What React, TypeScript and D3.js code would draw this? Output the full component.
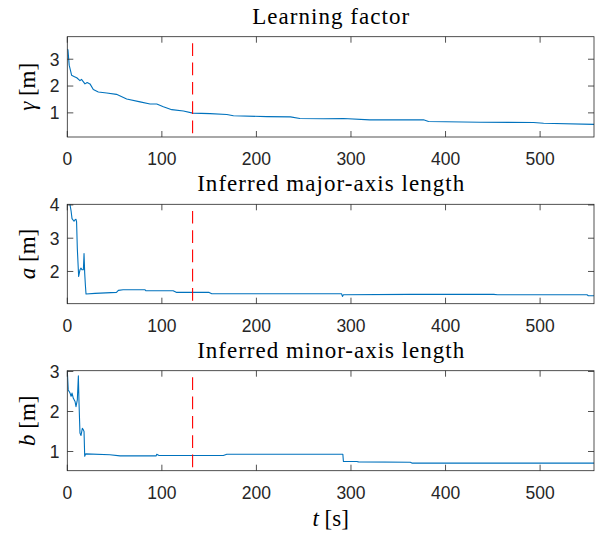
import React from 'react';
import * as d3 from 'd3';

const gammaT = [0, 0.7, 2, 4.6, 7, 10, 13.4, 15, 18.7, 21, 24, 27.5, 32.8, 41.7, 52, 62.8, 77, 87.5, 94.6, 101.6, 110.5, 122.8, 132.7, 151, 168.7, 175.7, 211, 236, 246, 271, 292, 320, 376.7, 382, 436.7, 493, 503.7, 557];
const gammaV = [3.38, 3.35, 2.78, 2.4, 2.36, 2.31, 2.2, 2.25, 2.08, 2.13, 2.08, 1.87, 1.78, 1.74, 1.69, 1.52, 1.41, 1.33, 1.33, 1.23, 1.12, 1.07, 0.99, 0.97, 0.94, 0.89, 0.86, 0.85, 0.79, 0.78, 0.79, 0.74, 0.74, 0.68, 0.65, 0.64, 0.61, 0.57];

const majorT = [2.5, 2.9, 3.9, 5, 7.1, 8, 9.2, 9.8, 10.6, 12, 13.4, 14.5, 15.5, 17, 17.7, 18.4, 19.1, 19.8, 29.3, 52, 54, 59, 82, 83, 112, 115.7, 150, 152.8, 290, 291, 292, 362.7, 451, 455, 549.6, 551, 557];
const majorV = [4.05, 4.0, 3.84, 3.59, 3.51, 3.55, 3.57, 3.5, 2.69, 1.85, 2.05, 2.1, 2.05, 2.05, 2.54, 1.95, 1.6, 1.32, 1.34, 1.37, 1.43, 1.45, 1.45, 1.42, 1.42, 1.37, 1.37, 1.33, 1.33, 1.25, 1.3, 1.31, 1.31, 1.3, 1.3, 1.27, 1.27];

const minorT = [0, 1, 2.9, 4, 5, 6.4, 8.2, 9.2, 10.6, 11.7, 12.4, 13.4, 14.5, 15.9, 17, 17.7, 18.4, 19.4, 45, 55.8, 94, 94.6, 97, 165, 168.7, 291.4, 292, 306, 308, 362.7, 364.4, 557];
const minorV = [3.02, 2.54, 2.46, 2.38, 2.46, 2.33, 2.25, 2.12, 2.29, 2.89, 2.21, 1.46, 1.4, 1.58, 1.54, 1.5, 0.88, 0.94, 0.92, 0.89, 0.89, 0.93, 0.9, 0.9, 0.93, 0.93, 0.75, 0.75, 0.74, 0.73, 0.71, 0.71];

const xTicks = [0, 100, 200, 300, 400, 500];
const gammaTicks = [1, 2, 3];
const majorTicks = [2, 3, 4];
const minorTicks = [1, 2, 3];
const titles = ['Learning factor', 'Inferred major-axis length', 'Inferred minor-axis length'];
const symbols = ['γ', 'a', 'b'];
const tMarker = 132.5;
const xDomain = [0, 557];

const W = 598;
const H = 533;
const L = 67.3;
const R = 594;
const AX = '#262626';
const serif = "'Liberation Serif', 'DejaVu Serif', serif";
const sans = "'Liberation Sans', Arial, Helvetica, sans-serif";

const panels = [
  { t: gammaT, v: gammaV, ticks: gammaTicks, domain: [0.1, 3.84], top: 36.7, bottom: 137, titleW: 157 },
  { t: majorT, v: majorV, ticks: majorTicks, domain: [1.03, 4.02], top: 204.3, bottom: 303.7, titleW: 267 },
  { t: minorT, v: minorV, ticks: minorTicks, domain: [0.52, 3.02], top: 370.7, bottom: 470.7, titleW: 267 },
];

export default function App() {
  const x = d3.scaleLinear().domain(xDomain).range([L, R]);
  return (
    <svg width={W} height={H} style={{ position: 'absolute', left: 0, top: 0, background: '#fff' }}>
      <rect x={0} y={0} width={W} height={H} fill="#fff" />
      {panels.map((p, i) => {
        const y = d3.scaleLinear().domain(p.domain).range([p.bottom, p.top]);
        const pts = p.t.map((t, k) => [t, p.v[k]] as [number, number]);
        const line = d3.line<[number, number]>().x(d => x(d[0])).y(d => y(d[1]));
        const cid = `clip${i}`;
        const tl = 6;
        return (
          <g key={i}>
            <defs>
              <clipPath id={cid}>
                <rect x={L} y={p.top} width={R - L} height={p.bottom - p.top} />
              </clipPath>
            </defs>
            <g clipPath={`url(#${cid})`}>
              <path d={line(pts) || ''} fill="none" stroke="#0072BD" strokeWidth={1.1} strokeLinejoin="round" />
              <line x1={x(tMarker)} x2={x(tMarker)} y1={p.top} y2={p.bottom} stroke="#FF0000" strokeWidth={1.1} strokeDasharray="12.7,6.6" strokeDashoffset={12.7} />
            </g>
            <rect x={L} y={p.top} width={R - L} height={p.bottom - p.top} fill="none" stroke={AX} strokeWidth={0.8} />
            {xTicks.map(t => (
              <g key={'x' + t}>
                <line x1={x(t)} x2={x(t)} y1={p.bottom} y2={p.bottom - tl} stroke={AX} strokeWidth={0.8} />
                <line x1={x(t)} x2={x(t)} y1={p.top} y2={p.top + tl} stroke={AX} strokeWidth={0.8} />
                <text x={x(t)} y={p.bottom + 28} textAnchor="middle" style={{ fontFamily: sans, fontSize: 17.5 }} fill={AX}>{t}</text>
              </g>
            ))}
            {p.ticks.map(t => (
              <g key={'y' + t}>
                <line x1={L} x2={L + tl} y1={y(t)} y2={y(t)} stroke={AX} strokeWidth={0.8} />
                <line x1={R} x2={R - tl} y1={y(t)} y2={y(t)} stroke={AX} strokeWidth={0.8} />
                <text x={59.5} y={y(t)} dy="0.36em" textAnchor="end" style={{ fontFamily: sans, fontSize: 17.5 }} fill={AX}>{t}</text>
              </g>
            ))}
            <text x={(L + R) / 2} y={p.top - 13.2} textAnchor="middle" style={{ fontFamily: serif, fontSize: 23 }} fill="#000" textLength={p.titleW} lengthAdjust="spacing">{titles[i]}</text>
            <text transform={`translate(35,${(p.top + p.bottom) / 2}) rotate(-90)`} textAnchor="middle" style={{ fontFamily: serif, fontSize: 23 }} fill="#000">
              <tspan fontStyle="italic">{symbols[i]}</tspan>
              <tspan> [m]</tspan>
            </text>
          </g>
        );
      })}
      <text x={(L + R) / 2} y={526} textAnchor="middle" style={{ fontFamily: serif, fontSize: 23 }} fill="#000">
        <tspan fontStyle="italic">t</tspan>
        <tspan> [s]</tspan>
      </text>
    </svg>
  );
}
